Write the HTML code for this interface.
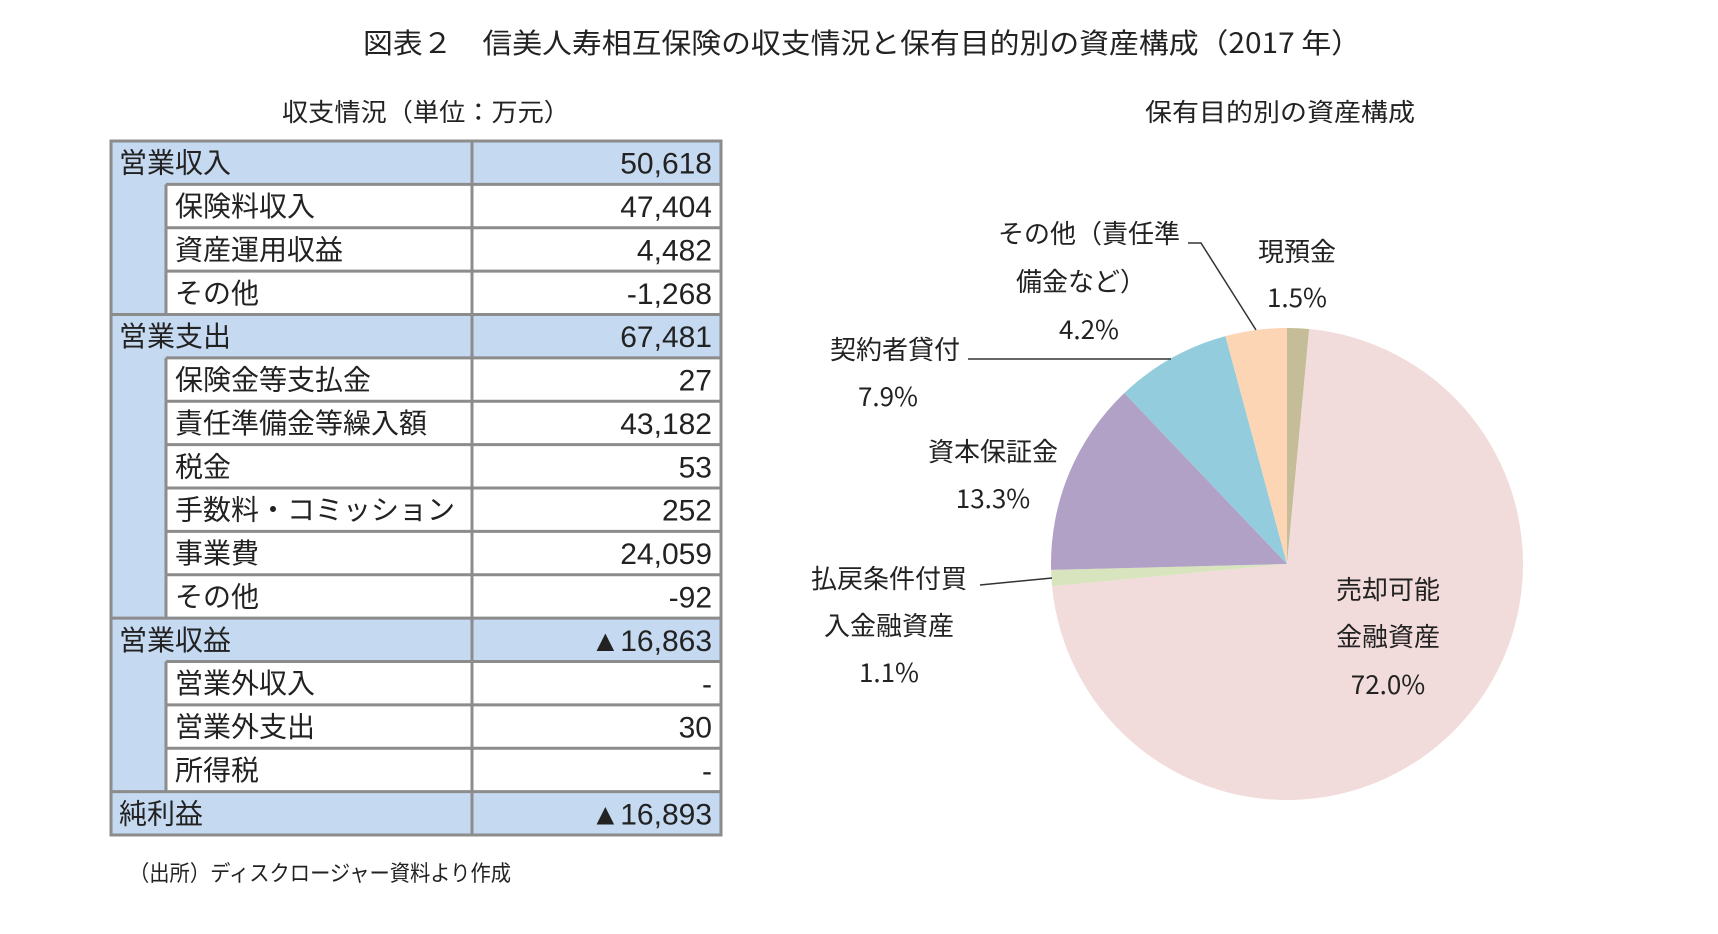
<!DOCTYPE html>
<html><head><meta charset="utf-8"><style>
html,body{margin:0;padding:0;background:#fff;}
svg{display:block;}
text{font-family:"Liberation Sans","Noto Sans CJK JP",sans-serif;fill:#222;}
.jp{font-family:"Noto Sans CJK JP","Liberation Sans",sans-serif;}
</style></head><body>
<svg id="s" width="1718" height="934" viewBox="0 0 1718 934" xmlns="http://www.w3.org/2000/svg">
<text class="jp" x="862" y="53" font-size="28" text-anchor="middle" textLength="998" lengthAdjust="spacingAndGlyphs">図表２　信美人寿相互保険の収支情況と保有目的別の資産構成（2017 年）</text>
<text class="jp" x="426" y="121" font-size="25" text-anchor="middle" textLength="288" lengthAdjust="spacingAndGlyphs">収支情況（単位：万元）</text>
<text class="jp" x="1280" y="121" font-size="25" text-anchor="middle" textLength="270" lengthAdjust="spacingAndGlyphs">保有目的別の資産構成</text>
<g id="table"></g>
<g id="pie"></g>
<g id="labels"></g>
<text class="jp" x="129" y="881" font-size="22" textLength="382" lengthAdjust="spacingAndGlyphs">（出所）ディスクロージャー資料より作成</text>
</svg>
<script>
const rowLabels=["営業収入","保険料収入","資産運用収益","その他","営業支出","保険金等支払金","責任準備金等繰入額","税金","手数料・コミッション","事業費","その他","営業収益","営業外収入","営業外支出","所得税","純利益"];
const rowValues=["50,618","47,404","4,482","-1,268","67,481","27","43,182","53","252","24,059","-92","▲16,863","-","30","-","▲16,893"];
const rowIsHeader=[1,0,0,0,1,0,0,0,0,0,0,1,0,0,0,1];
const sliceLabels=["現預金","売却可能金融資産","払戻条件付買入金融資産","資本保証金","契約者貸付","その他（責任準備金など）"];
const sliceValues=[1.5,72.0,1.1,13.3,7.9,4.2];
const sliceColors=["#c4bd97","#f2dcdb","#d7e4bd","#b2a1c7","#93cddd","#fcd5b5"];
const NS="http://www.w3.org/2000/svg";
function mk(tag,attrs,parent){const e=document.createElementNS(NS,tag);for(const k in attrs)e.setAttribute(k,attrs[k]);parent.appendChild(e);return e;}
// table
const tg=document.getElementById('table');
const L=111,R=721,C=472,IND=166,T=141,B=835,rh=(B-T)/rowLabels.length;
const bg=mk('rect',{x:L,y:T,width:R-L,height:B-T,fill:'#c5d9f1'},tg);

rowLabels.forEach((lab,i)=>{
  const y=T+i*rh, h=rowIsHeader[i];
  const g=mk('g',{},tg);
  
  
  if(!h){mk('rect',{x:IND,y:y,width:R-IND,height:rh,fill:'#fff'},g);}
  mk('line',{x1:h?L:IND,x2:R,y1:y,y2:y,stroke:'#8c8c8c','stroke-width':3},g);
  if(!h) mk('line',{x1:IND,x2:IND,y1:y,y2:y+rh,stroke:'#8c8c8c','stroke-width':3},g);
  const t=mk('text',{x:(h?119:175),y:y+rh/2+10,'font-size':28,class:'jp'},g);t.textContent=lab;
  
  const v=mk('text',{x:712,y:y+rh/2+11,'font-size':30,'text-anchor':'end'},g);v.textContent=rowValues[i];
  
});
mk('line',{x1:C,x2:C,y1:T,y2:B,stroke:'#8c8c8c','stroke-width':3},tg);
mk('rect',{x:L,y:T,width:R-L,height:B-T,fill:'none',stroke:'#8c8c8c','stroke-width':3},tg);
// pie
const pg=document.getElementById('pie');
const cx=1287,cy=564,r=236;
const total=sliceValues.reduce((a,b)=>a+b,0);
let ang=0;
sliceValues.forEach((v,i)=>{
  const a0=ang/total*2*Math.PI, a1=(ang+v)/total*2*Math.PI; ang+=v;
  const x0=cx+r*Math.sin(a0),y0=cy-r*Math.cos(a0),x1=cx+r*Math.sin(a1),y1=cy-r*Math.cos(a1);
  const p=mk('path',{d:`M${cx},${cy}L${x0},${y0}A${r},${r} 0 ${(a1-a0)>Math.PI?1:0} 1 ${x1},${y1}Z`,fill:sliceColors[i]},pg);
  
  
});
// labels
const lg=document.getElementById('labels');
function txt(s,x,y,anchor){const t=mk('text',{x:x,y:y,'font-size':26,'text-anchor':anchor||'middle',class:'jp'},lg);t.textContent=s;
  return t;}
function pct(i){return sliceValues[i].toFixed(1)+'%';}
txt("現預金",1297,261);txt(pct(0),1297,307);
txt("売却可能",1388,599);txt("金融資産",1388,646);txt(pct(1),1388,694);
txt("払戻条件付買",889,588);txt("入金融資産",889,635);txt(pct(2),889,682);
txt("資本保証金",993,461);txt(pct(3),993,508);
txt("契約者貸付",895,359);txt(pct(4),888,406);
txt("その他（責任準",1089,243);txt("備金など）",1081,291);txt(pct(5),1089,339);
function ln(pts){const p=mk('polyline',{points:pts,fill:'none',stroke:'#333','stroke-width':1.5},lg);
  }
ln("1188,243 1201,243 1256,330");
ln("968,359 1171,359");
ln("980,585 1052,578");
</script>
</body></html>
